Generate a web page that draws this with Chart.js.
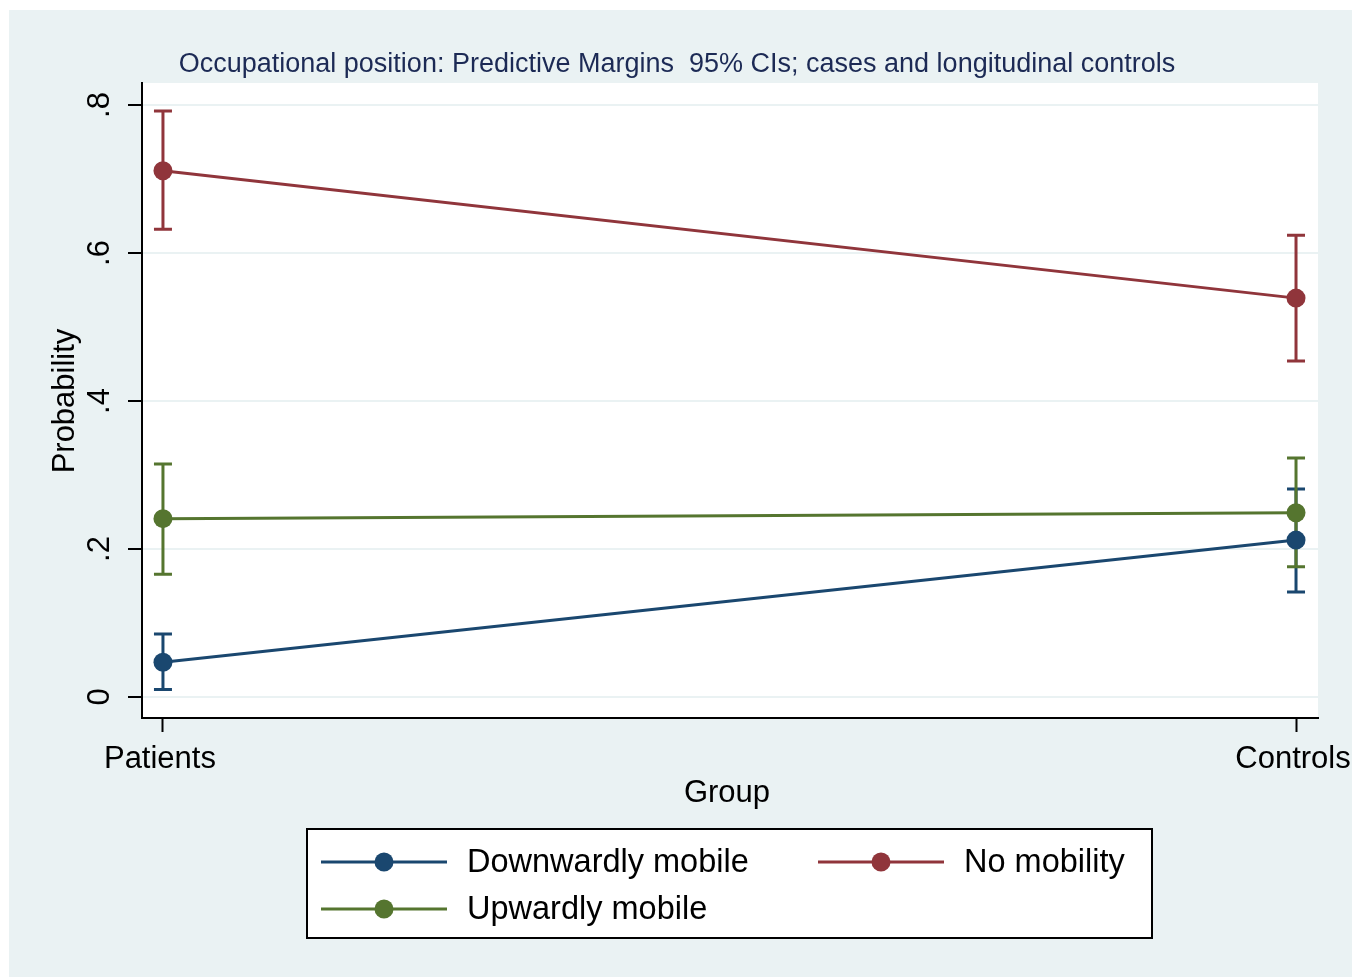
<!DOCTYPE html>
<html>
<head>
<meta charset="utf-8">
<title>Occupational position: Predictive Margins</title>
<script src="https://cdn.jsdelivr.net/npm/chart.js@4"></script>
<style>
  html, body { margin: 0; padding: 0; background: #fff; }
  canvas { display: block; }
</style>
</head>
<body>
<canvas id="marginsChart" width="1372" height="977"></canvas>
<script>
// --- data ---
const groups     = ['Patients', 'Controls'];
const yTicks     = [0, 0.2, 0.4, 0.6, 0.8];
const yTickText  = ['0', '.2', '.4', '.6', '.8'];

const seriesNames = ['Downwardly mobile', 'No mobility', 'Upwardly mobile'];
const downMargin = [0.047, 0.212];
const downLow    = [0.010, 0.142];
const downHigh   = [0.085, 0.281];
const noMargin   = [0.711, 0.539];
const noLow      = [0.632, 0.454];
const noHigh     = [0.792, 0.624];
const upMargin   = [0.241, 0.249];
const upLow      = [0.166, 0.176];
const upHigh     = [0.315, 0.323];

const NAVY   = '#1a476f';
const MAROON = '#90353b';
const GREEN  = '#55752f';
const BG     = '#eaf2f3';
const FONT   = "'Liberation Sans', Arial, sans-serif";

const toPoints = arr => arr.map((v, i) => ({ x: i, y: v }));

function makeSet(label, values, low, high, color) {
    return {
        label,
        data: toPoints(values),
        low, high,
        borderColor: color,
        backgroundColor: color,
        borderWidth: 3,
        pointRadius: 9.5,
        pointHoverRadius: 9.5,
        pointBorderWidth: 0,
        tension: 0,
    };
}

// ============================================
// background, plot area, error bars, texts
// ============================================
const stataLook = {
    id: 'stataLook',
    beforeDraw(chart) {
        const { ctx, chartArea: a } = chart;
        ctx.save();
        ctx.fillStyle = BG;
        ctx.fillRect(9, 10, 1343, 967);
        ctx.fillStyle = '#fff';
        ctx.fillRect(a.left, a.top, a.right - a.left, a.bottom - a.top);
        ctx.restore();
    },
    beforeDatasetsDraw(chart) {
        const { ctx, scales: { x, y } } = chart;
        ctx.save();
        chart.data.datasets.forEach(ds => {
            ctx.strokeStyle = ds.borderColor;
            ctx.lineWidth = 3;
            ds.data.forEach((p, i) => {
                const px = x.getPixelForValue(p.x);
                const y1 = y.getPixelForValue(ds.low[i]);
                const y2 = y.getPixelForValue(ds.high[i]);
                ctx.beginPath();
                ctx.moveTo(px, y1); ctx.lineTo(px, y2);
                ctx.moveTo(px - 9, y1); ctx.lineTo(px + 9, y1);
                ctx.moveTo(px - 9, y2); ctx.lineTo(px + 9, y2);
                ctx.stroke();
            });
        });
        ctx.restore();
    },
    afterDraw(chart) {
        const { ctx, scales: { x, y }, chartArea: a } = chart;
        ctx.save();

        // title
        ctx.fillStyle = '#1c2a55';
        ctx.font = `27px ${FONT}`;
        ctx.textAlign = 'center';
        ctx.textBaseline = 'alphabetic';
        ctx.fillText('Occupational position: Predictive Margins  95% CIs; cases and longitudinal controls', 677, 72);

        // y tick labels (rotated like Stata)
        ctx.fillStyle = '#000';
        ctx.font = `31px ${FONT}`;
        yTicks.forEach((v, i) => {
            ctx.save();
            ctx.translate(100, y.getPixelForValue(v));
            ctx.rotate(-Math.PI / 2);
            ctx.textAlign = 'center';
            ctx.textBaseline = 'middle';
            ctx.fillText(yTickText[i], 0, 0);
            ctx.restore();
        });

        // y title
        ctx.save();
        ctx.translate(65, 401);
        ctx.rotate(-Math.PI / 2);
        ctx.textAlign = 'center';
        ctx.textBaseline = 'middle';
        ctx.fillText('Probability', 0, 0);
        ctx.restore();

        // x tick labels and title
        ctx.textAlign = 'center';
        ctx.textBaseline = 'middle';
        groups.forEach((g, i) => {
            ctx.fillText(g, x.getPixelForValue(i) - 3, 759);
        });
        ctx.fillText('Group', (a.left + a.right) / 2 - 3, 793);

        // legend box
        ctx.fillStyle = '#fff';
        ctx.fillRect(307, 829, 845, 109);
        ctx.strokeStyle = '#000';
        ctx.lineWidth = 2;
        ctx.strokeRect(307, 829, 845, 109);

        const slots = [[321, 862], [818, 862], [321, 909]];
        ctx.font = `32.5px ${FONT}`;
        ctx.textAlign = 'left';
        chart.data.datasets.forEach((ds, i) => {
            const [lx, ly] = slots[i];
            ctx.strokeStyle = ds.borderColor;
            ctx.lineWidth = 3;
            ctx.beginPath();
            ctx.moveTo(lx, ly); ctx.lineTo(lx + 126, ly);
            ctx.stroke();
            ctx.fillStyle = ds.borderColor;
            ctx.beginPath();
            ctx.arc(lx + 63, ly, 9.5, 0, Math.PI * 2);
            ctx.fill();
            ctx.fillStyle = '#000';
            ctx.fillText(ds.label, lx + 146, ly + 1);
        });

        ctx.restore();
    },
};

new Chart(document.getElementById('marginsChart'), {
    type: 'line',
    data: {
        datasets: [
            makeSet(seriesNames[0], downMargin, downLow, downHigh, NAVY),
            makeSet(seriesNames[1], noMargin, noLow, noHigh, MAROON),
            makeSet(seriesNames[2], upMargin, upLow, upHigh, GREEN),
        ],
    },
    options: {
        responsive: false,
        animation: false,
        devicePixelRatio: 1,
        layout: { padding: { left: 0, top: 83, right: 54, bottom: 0 } },
        plugins: {
            legend: { display: false },
            title: { display: false },
            tooltip: { enabled: false },
        },
        scales: {
            x: {
                type: 'linear',
                min: -0.0185,
                max: 1.0194,
                afterBuildTicks: s => { s.ticks = groups.map((g, i) => ({ value: i })); },
                afterFit: s => { s.height = 977 - 718; },
                ticks: { display: false },
                grid: {
                    drawOnChartArea: false,
                    drawTicks: true,
                    tickLength: 14,
                    tickColor: '#000',
                    tickWidth: 2,
                },
                border: { display: true, color: '#000', width: 2 },
            },
            y: {
                type: 'linear',
                min: -0.0284,
                max: 0.8297,
                afterBuildTicks: s => { s.ticks = yTicks.map(v => ({ value: v })); },
                afterFit: s => { s.width = 142; },
                ticks: { display: false },
                grid: {
                    color: BG,
                    lineWidth: 2,
                    drawTicks: true,
                    tickLength: 14,
                    tickColor: '#000',
                    tickWidth: 2,
                },
                border: { display: true, color: '#000', width: 2 },
            },
        },
    },
    plugins: [stataLook],
});
</script>
</body>
</html>
